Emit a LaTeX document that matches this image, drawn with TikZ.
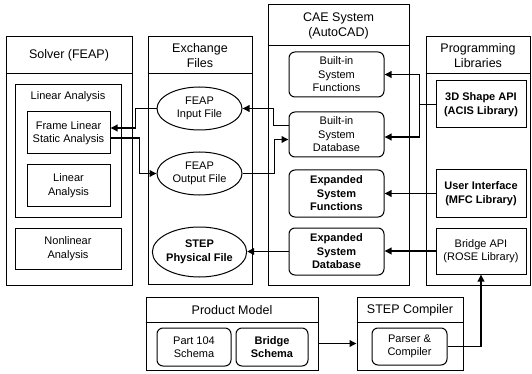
\documentclass[tikz,border=0pt]{standalone}
\usepackage{fontspec}
\setmainfont{Liberation Sans}
\usetikzlibrary{arrows.meta, shapes.geometric, positioning}

\begin{document}
\begin{tikzpicture}[x=1pt, y=-1pt,
  panel/.style={draw, line width=1pt, inner sep=0pt},
  heading/.style={font=\fontsize{12.5}{15}\selectfont, align=center},
  block/.style={draw, line width=1pt, align=center, inner sep=0pt,
    font=\fontsize{11}{13.5}\selectfont},
  rblock/.style={block, rounded corners=6pt},
  file/.style={block, ellipse},
  link/.style={line width=1.8pt},
  flow/.style={link, -{Triangle[length=7pt, width=6.5pt]}}
]
  \useasboundingbox (0,0) rectangle (532,374);

  % columns
  \node[panel, minimum width=126, minimum height=248] (solver) at (69,161) {};
  \node[panel, minimum width=104, minimum height=247] (exch)   at (200,160.5) {};
  \node[panel, minimum width=141, minimum height=280] (cae)    at (338.5,145) {};
  \node[panel, minimum width=104, minimum height=248] (libs)   at (478,161) {};
  \node[panel, minimum width=172, minimum height=73]  (pm)     at (232,333.5) {};
  \node[panel, minimum width=106, minimum height=73]  (sc)     at (410,333.5) {};

  \draw[line width=1pt] ([yshift=-37pt]solver.north west) -- ([yshift=-37pt]solver.north east);
  \draw[line width=1pt] ([yshift=-37pt]exch.north west) -- ([yshift=-37pt]exch.north east);
  \draw[line width=1pt] ([yshift=-41pt]cae.north west) -- ([yshift=-41pt]cae.north east);
  \draw[line width=1pt] ([yshift=-37pt]libs.north west) -- ([yshift=-37pt]libs.north east);
  \draw[line width=1pt] ([yshift=-26pt]pm.north west) -- ([yshift=-26pt]pm.north east);
  \draw[line width=1pt] ([yshift=-26pt]sc.north west) -- ([yshift=-26pt]sc.north east);

  \node[heading] (solvert) at (69,55.5)    {Solver (FEAP)};
  \node[heading] (excht)   at (200,55.5)   {Exchange\\Files};
  \node[heading] (caet)    at (338.5,25.5) {CAE System\\(AutoCAD)};
  \node[heading] (libst)   at (478,55.5)   {Programming\\Libraries};
  \node[heading] (pmt)     at (232,310)    {Product Model};
  \node[heading] (sct)     at (410,310)    {STEP Compiler};

  % solver
  \node[block, minimum width=106, minimum height=132] (lingrp) at (68,151) {};
  \node[font=\fontsize{11}{13.5}\selectfont] (lingrpt) at (68,97) {Linear Analysis};
  \node[block, minimum width=83, minimum height=42] (frame) at (68.5,133) {Frame Linear\\Static Analysis};
  \node[block, minimum width=83, minimum height=41] (lin) at (68.5,185.5) {Linear\\Analysis};
  \node[block, minimum width=106, minimum height=41] (nonlin) at (68,248.5) {Nonlinear\\Analysis};

  % exchange files
  \node[file, minimum width=85, minimum height=43] (in)  at (199.5,108.5) {FEAP\\Input File};
  \node[file, minimum width=85, minimum height=43] (out) at (199.5,173.5) {FEAP\\Output File};
  \node[file, minimum width=87, minimum height=50] (stepf) at (199.5,252) {\textbf{STEP}\\\textbf{Physical File}};

  % cae system
  \node[rblock, minimum width=95, minimum height=45] (bfn) at (336.5,74.5)  {Built-in\\System\\Functions};
  \node[rblock, minimum width=95, minimum height=45] (bdb) at (336.5,134.5) {Built-in\\System\\Database};
  \node[rblock, minimum width=95, minimum height=47] (efn) at (336.5,193.5) {\textbf{Expanded}\\\textbf{System}\\\textbf{Functions}};
  \node[rblock, minimum width=95, minimum height=47] (edb) at (336.5,251.5) {\textbf{Expanded}\\\textbf{System}\\\textbf{Database}};

  % libraries
  \node[block, minimum width=90, minimum height=47] (shape) at (481,104.5) {\textbf{3D Shape API}\\\textbf{(ACIS Library)}};
  \node[block, minimum width=90, minimum height=47] (ui)    at (481,193.5) {\textbf{User Interface}\\\textbf{(MFC Library)}};
  \node[block, minimum width=90, minimum height=46] (bapi)  at (481,251)   {Bridge API\\(ROSE Library)};

  % product model and compiler
  \node[rblock, minimum width=74, minimum height=38] (p104)  at (194,347)   {Part 104\\Schema};
  \node[rblock, minimum width=72, minimum height=38] (bsch)  at (272,347)   {\textbf{Bridge}\\\textbf{Schema}};
  \node[rblock, minimum width=75, minimum height=37] (parse) at (409.5,346.5) {Parser \&\\Compiler};

  % data flow
  \draw[flow] (in.west) -- ++(-21,0) |- ([yshift=5pt]frame.east);
  \draw[flow] ([yshift=-5pt]frame.east) -- ++(29,0) |- (out.west);
  \draw[flow] ([yshift=9pt]bdb.west) -- ++(-15,0) |- (in.east);
  \draw[flow] (out.east) -- ++(32,0) |- ([yshift=-5pt]bdb.west);
  \draw[flow] (edb.west) -- (edb.west -| stepf.east);

  \draw[link] (shape.west) -- ++(-16,0) coordinate (split);
  \draw[flow] (split) |- (bfn.east);
  \draw[flow] (split) |- ([yshift=-2.5pt]bdb.east);
  \draw[flow] (ui.west) -- (efn.east);
  \draw[flow] (bapi.west) -- (bapi.west -| edb.east);

  \draw[flow] ([yshift=-10pt]pm.east) -- ([yshift=-10pt]sc.west);
  \draw[flow] (parse.east) -| (bapi.south);
\end{tikzpicture}
\end{document}
